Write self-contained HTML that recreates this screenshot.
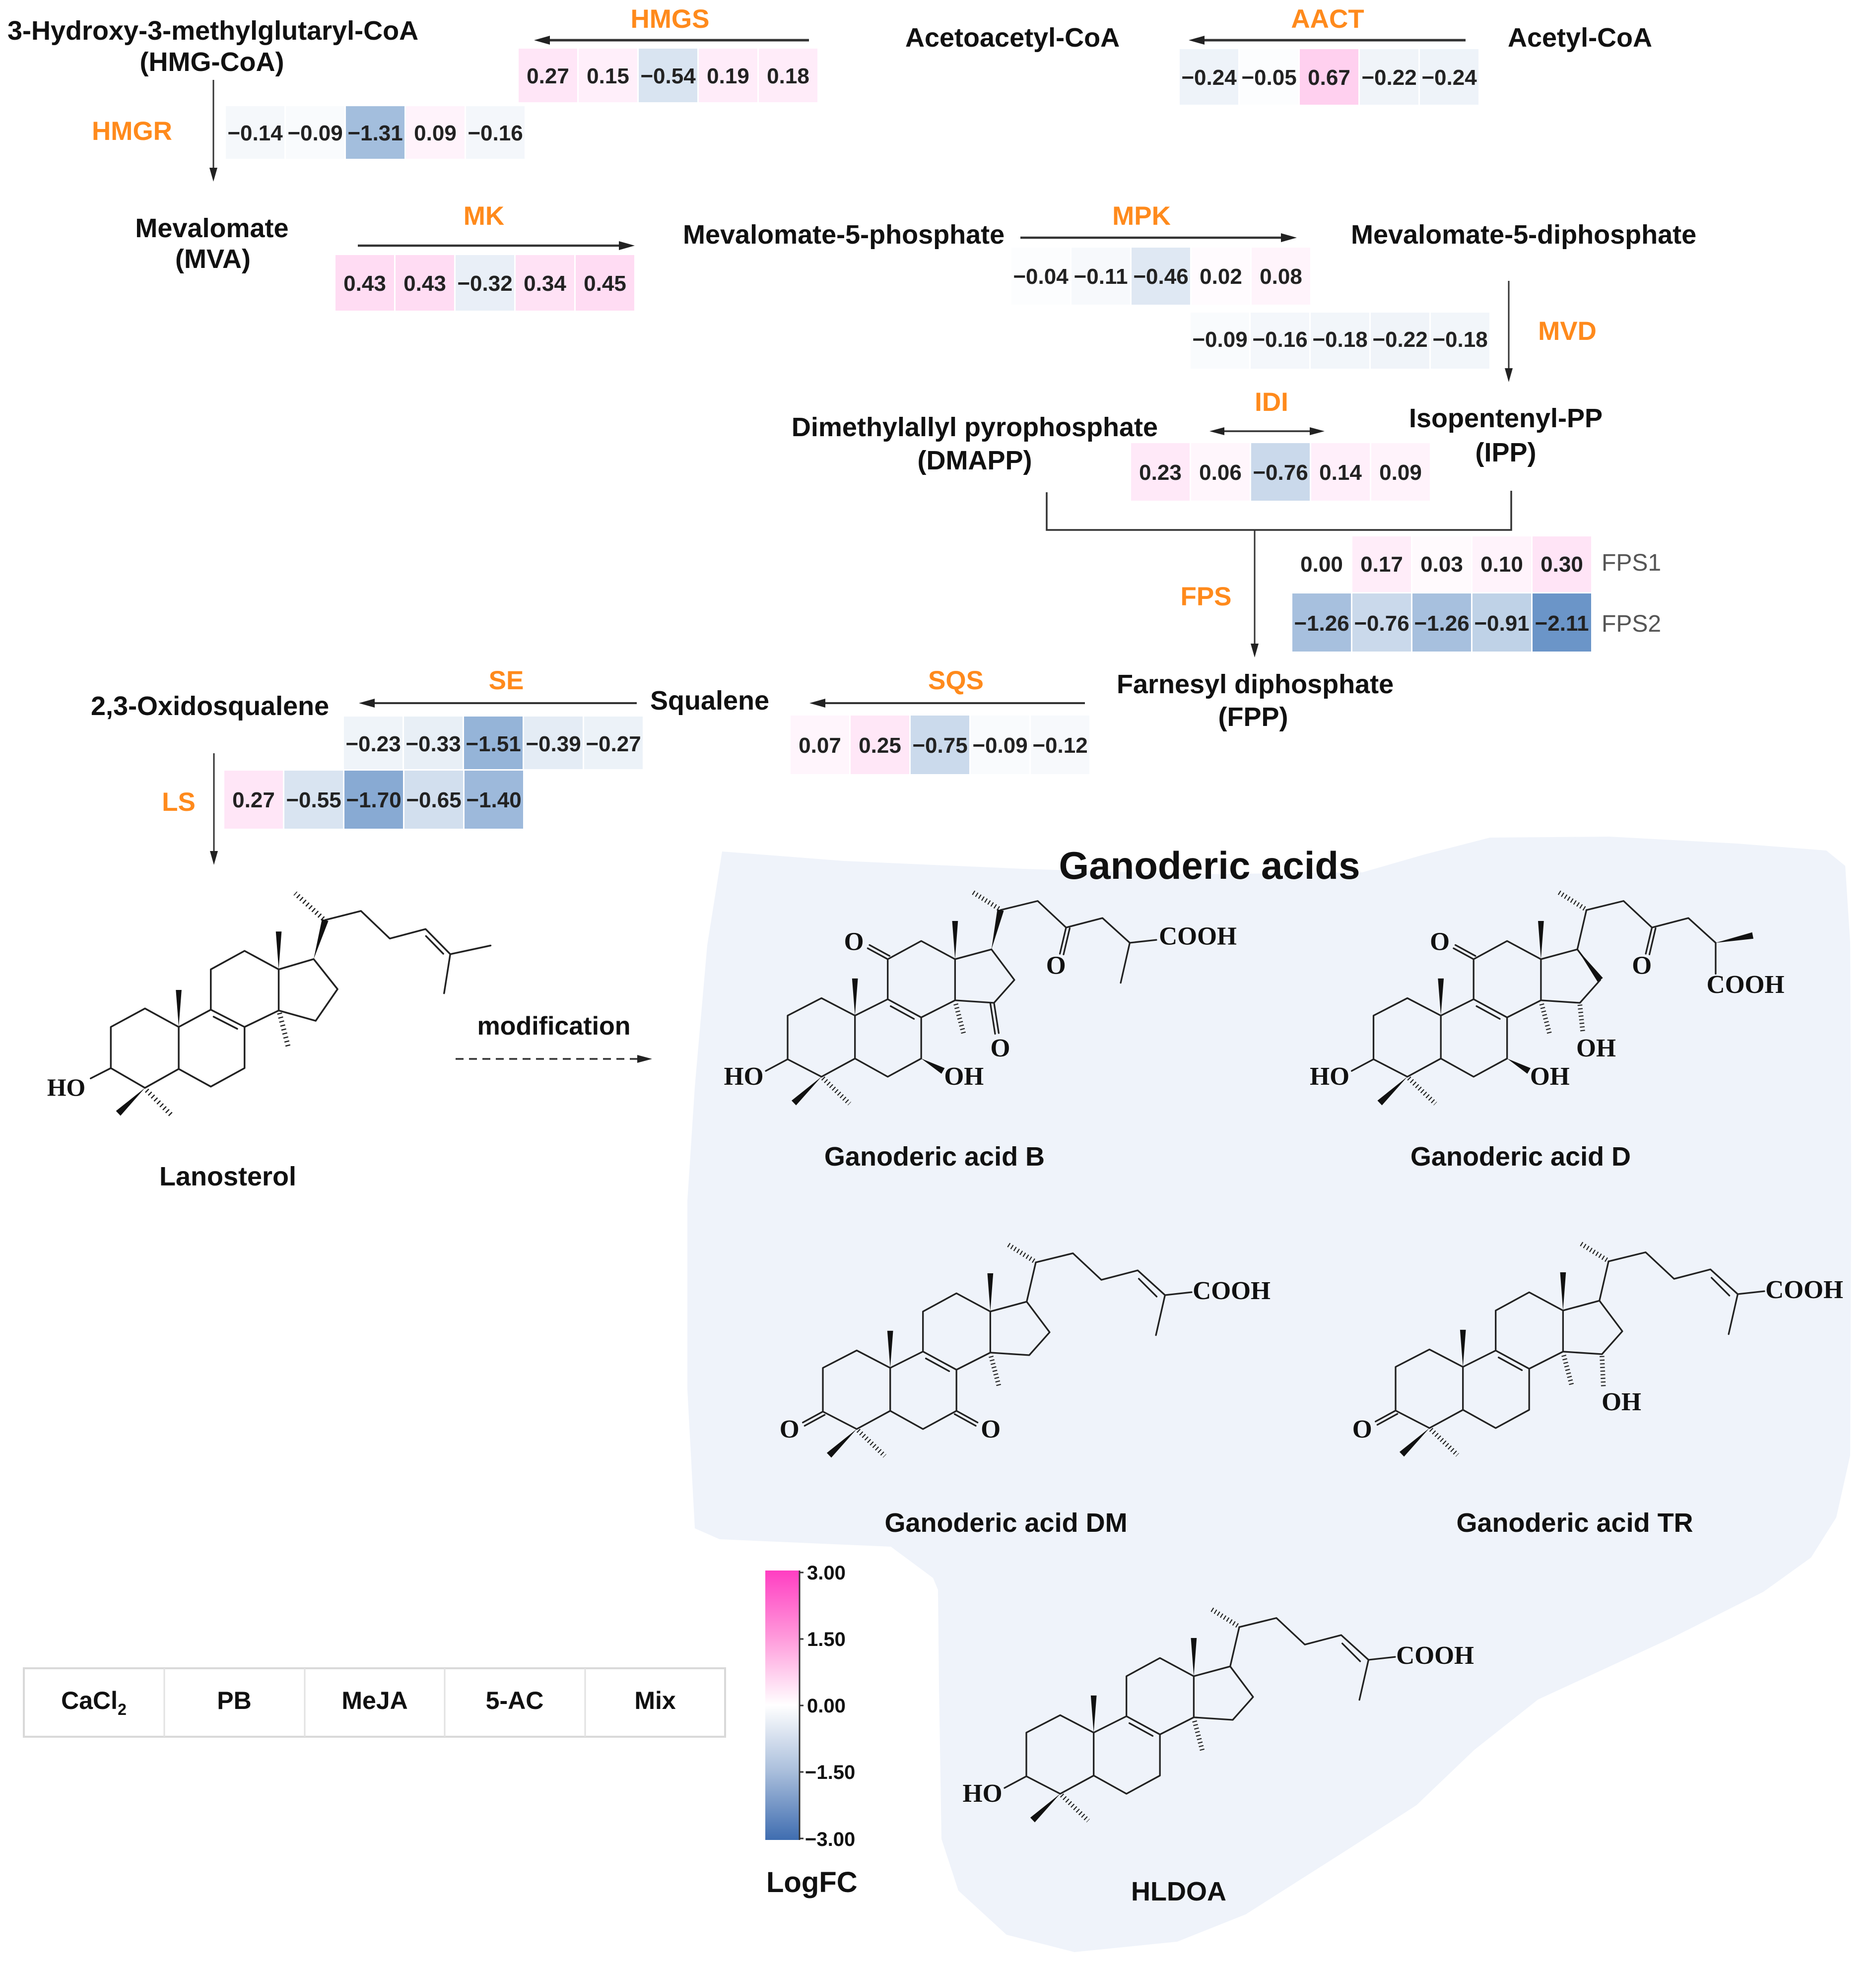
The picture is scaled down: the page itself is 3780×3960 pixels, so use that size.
<!DOCTYPE html>
<html>
<head>
<meta charset="utf-8">
<style>
html,body{margin:0;padding:0;background:#fff;}
svg{display:block;}
.n{font-family:"Liberation Sans",Arial,sans-serif;font-weight:bold;font-size:54px;fill:#111;}
.e{font-family:"Liberation Sans",Arial,sans-serif;font-weight:bold;font-size:53px;fill:#FF8A1C;}
.v{font-family:"Liberation Sans",Arial,sans-serif;font-weight:bold;font-size:44px;fill:#222;text-anchor:middle;}
.g{font-family:"Liberation Sans",Arial,sans-serif;font-size:48px;fill:#555;}
.c{font-family:"Liberation Serif","Times New Roman",serif;font-weight:bold;font-size:70px;fill:#111;}
.m{text-anchor:middle;}
.ln{stroke:#333;fill:none;}
.sk{stroke:#222;stroke-width:4.5;fill:none;stroke-linejoin:round;stroke-linecap:round;}
.hs{stroke:#222;stroke-width:13;fill:none;stroke-dasharray:3 7;}
.wd{fill:#111;stroke:none;}
</style>
</head>
<body>
<svg xmlns="http://www.w3.org/2000/svg" xmlns:xlink="http://www.w3.org/1999/xlink" width="3780" height="3960" viewBox="0 0 3780 3960">
<defs>
<linearGradient id="cb" x1="0" y1="0" x2="0" y2="1">
<stop offset="0" stop-color="#FF3EC2"/>
<stop offset="0.25" stop-color="#FF9ADB"/>
<stop offset="0.5" stop-color="#FFFFFF"/>
<stop offset="0.75" stop-color="#A8BDDB"/>
<stop offset="1" stop-color="#3F6DB0"/>
</linearGradient>
<g id="sk">
<path class="sk" d="M348,452 L255,500 L255,620 L348,668 L440,618 L440,500 Z M440,618 L530,668 L622,618 L622,505 L530,455 L440,500 M530,455 L530,345 L622,295 L715,345 L715,458 L622,505 M715,345 L815,318 L878,402 L822,465 L715,458 M840,210 L942,185 L1020,258 L1120,232 L1195,300 M538,474 L602,509"/>
<polygon class="wd" points="348,668 278.2,746.5 265.8,733.5"/>
<polygon class="wd" points="440,500 432,398 448,398"/>
<polygon class="wd" points="715,345 707,240 723,240"/>
<path class="hs" d="M352,672 L425,742 M717,468 L740,555 M835,206 L762,160"/>
</g>
</defs>

<!-- blue region -->
<path fill="#EFF3FA" d="M1455,1716 L1700,1735 L2063,1751 L2400,1762 L2745,1758 L2870,1722 L3002,1688 L3243,1686 L3500,1700 L3680,1714 L3718,1745 L3728,1900 L3730,2400 L3728,2933 L3700,3058 L3649,3139 L3553,3208 L3370,3300 L3099,3425 L2970,3527 L2854,3638 L2716,3727 L2510,3858 L2372,3913 L2165,3934 L2028,3899 L1931,3810 L1897,3706 L1892,3400 L1890,3204 L1880,3180 L1795,3117 L1450,3102 L1400,3080 L1385,2800 L1385,2420 L1400,2190 L1425,1905 Z"/>

<!-- ===== node labels ===== -->
<text class="n" x="15" y="80">3-Hydroxy-3-methylglutaryl-CoA</text>
<text class="n m" x="427" y="143">(HMG-CoA)</text>
<text class="n" x="1824" y="94">Acetoacetyl-CoA</text>
<text class="n" x="3038" y="94">Acetyl-CoA</text>
<text class="n m" x="427" y="478">Mevalomate</text>
<text class="n m" x="429" y="540">(MVA)</text>
<text class="n" x="1376" y="491">Mevalomate-5-phosphate</text>
<text class="n" x="2722" y="491">Mevalomate-5-diphosphate</text>
<text class="n m" x="1964" y="879">Dimethylallyl pyrophosphate</text>
<text class="n m" x="1964" y="946">(DMAPP)</text>
<text class="n m" x="3034" y="861">Isopentenyl-PP</text>
<text class="n m" x="3034" y="930">(IPP)</text>
<text class="n" x="2250" y="1397">Farnesyl diphosphate</text>
<text class="n m" x="2525" y="1463">(FPP)</text>
<text class="n" x="1310" y="1430">Squalene</text>
<text class="n" x="183" y="1441">2,3-Oxidosqualene</text>

<!-- enzyme labels -->
<text class="e m" x="1350" y="56">HMGS</text>
<text class="e m" x="2675" y="56">AACT</text>
<text class="e m" x="266" y="282">HMGR</text>
<text class="e m" x="975" y="453">MK</text>
<text class="e m" x="2300" y="453">MPK</text>
<text class="e m" x="3158" y="685">MVD</text>
<text class="e m" x="2562" y="828">IDI</text>
<text class="e m" x="2430" y="1220">FPS</text>
<text class="e m" x="1926" y="1389">SQS</text>
<text class="e m" x="1020" y="1389">SE</text>
<text class="e m" x="360" y="1634">LS</text>
<text class="g" x="3227" y="1150">FPS1</text>
<text class="g" x="3227" y="1273">FPS2</text>

<!-- ===== arrows ===== -->
<line class="ln" stroke-width="5" x1="1100" y1="81" x2="1630" y2="81"/>
<polygon fill="#222" points="1076,81 1108,72 1108,90"/>
<line class="ln" stroke-width="5" x1="2420" y1="81" x2="2953" y2="81"/>
<polygon fill="#222" points="2395,81 2427,72 2427,90"/>
<line class="ln" stroke-width="3" x1="430" y1="161" x2="430" y2="345"/>
<polygon fill="#222" points="430,366 422,338 438,338"/>
<line class="ln" stroke-width="4.5" x1="721" y1="495" x2="1255" y2="495"/>
<polygon fill="#222" points="1279,495 1247,486 1247,504"/>
<line class="ln" stroke-width="4.5" x1="2056" y1="479" x2="2590" y2="479"/>
<polygon fill="#222" points="2613,479 2581,470 2581,488"/>
<line class="ln" stroke-width="3" x1="3040" y1="566" x2="3040" y2="750"/>
<polygon fill="#222" points="3040,770 3032,742 3048,742"/>
<line class="ln" stroke-width="3.5" x1="2450" y1="869" x2="2655" y2="869"/>
<polygon fill="#222" points="2437,869 2467,861 2467,877"/>
<polygon fill="#222" points="2669,869 2639,861 2639,877"/>
<path class="ln" stroke-width="3.5" d="M2109,992 L2109,1068 L3045,1068 L3045,989"/>
<line class="ln" stroke-width="3" x1="2528" y1="1068" x2="2528" y2="1305"/>
<polygon fill="#222" points="2528,1325 2520,1297 2536,1297"/>
<line class="ln" stroke-width="4" x1="1650" y1="1417" x2="2186" y2="1417"/>
<polygon fill="#222" points="1631,1417 1663,1408 1663,1426"/>
<line class="ln" stroke-width="4" x1="740" y1="1417" x2="1283" y2="1417"/>
<polygon fill="#222" points="723,1417 755,1408 755,1426"/>
<line class="ln" stroke-width="3" x1="431" y1="1518" x2="431" y2="1720"/>
<polygon fill="#222" points="431,1743 423,1715 439,1715"/>
<line class="ln" stroke-width="3.5" stroke-dasharray="16 11" x1="918" y1="2134" x2="1290" y2="2134"/>
<polygon fill="#222" points="1314,2134 1284,2126 1284,2142"/>
<text class="n m" x="1116" y="2085" style="font-size:52px">modification</text>

<!-- ===== heatmaps ===== -->
<g>
<rect x="1045" y="98" width="118" height="108" fill="#FFE6F7"/>
<rect x="1166" y="98" width="118" height="108" fill="#FFEFFA"/>
<rect x="1287" y="98" width="118" height="108" fill="#D9E4F1"/>
<rect x="1408" y="98" width="118" height="108" fill="#FFECF9"/>
<rect x="1529" y="98" width="118" height="108" fill="#FFECF9"/>
<text class="v" x="1104" y="168">0.27</text>
<text class="v" x="1225" y="168">0.15</text>
<text class="v" x="1346" y="168">−0.54</text>
<text class="v" x="1467" y="168">0.19</text>
<text class="v" x="1588" y="168">0.18</text>
</g>
<g>
<rect x="2377" y="99" width="118" height="112" fill="#EEF3F9"/>
<rect x="2498" y="99" width="118" height="112" fill="#FCFDFE"/>
<rect x="2619" y="99" width="118" height="112" fill="#FFD0EF"/>
<rect x="2740" y="99" width="118" height="112" fill="#F0F4F9"/>
<rect x="2861" y="99" width="118" height="112" fill="#EEF3F9"/>
<text class="v" x="2436" y="171">−0.24</text>
<text class="v" x="2557" y="171">−0.05</text>
<text class="v" x="2678" y="171">0.67</text>
<text class="v" x="2799" y="171">−0.22</text>
<text class="v" x="2920" y="171">−0.24</text>
</g>
<g>
<rect x="455" y="214" width="118" height="106" fill="#F5F8FB"/>
<rect x="576" y="214" width="118" height="106" fill="#F9FBFD"/>
<rect x="697" y="214" width="118" height="106" fill="#A3BEDD"/>
<rect x="818" y="214" width="118" height="106" fill="#FFF3FB"/>
<rect x="939" y="214" width="118" height="106" fill="#F4F7FB"/>
<text class="v" x="514" y="283">−0.14</text>
<text class="v" x="635" y="283">−0.09</text>
<text class="v" x="756" y="283">−1.31</text>
<text class="v" x="877" y="283">0.09</text>
<text class="v" x="998" y="283">−0.16</text>
</g>
<g>
<rect x="676" y="514" width="118" height="112" fill="#FFDCF3"/>
<rect x="797" y="514" width="118" height="112" fill="#FFDCF3"/>
<rect x="918" y="514" width="118" height="112" fill="#E9EFF7"/>
<rect x="1039" y="514" width="118" height="112" fill="#FFE2F5"/>
<rect x="1160" y="514" width="118" height="112" fill="#FFDCF3"/>
<text class="v" x="735" y="586">0.43</text>
<text class="v" x="856" y="586">0.43</text>
<text class="v" x="977" y="586">−0.32</text>
<text class="v" x="1098" y="586">0.34</text>
<text class="v" x="1219" y="586">0.45</text>
</g>
<g>
<rect x="2038" y="499" width="118" height="115" fill="#FCFDFE"/>
<rect x="2159" y="499" width="118" height="115" fill="#F7F9FC"/>
<rect x="2280" y="499" width="118" height="115" fill="#DFE8F3"/>
<rect x="2401" y="499" width="118" height="115" fill="#FFFBFE"/>
<rect x="2522" y="499" width="118" height="115" fill="#FFF4FB"/>
<text class="v" x="2097" y="572">−0.04</text>
<text class="v" x="2218" y="572">−0.11</text>
<text class="v" x="2339" y="572">−0.46</text>
<text class="v" x="2460" y="572">0.02</text>
<text class="v" x="2581" y="572">0.08</text>
</g>
<g>
<rect x="2399" y="630" width="118" height="113" fill="#F9FBFD"/>
<rect x="2520" y="630" width="118" height="113" fill="#F4F7FB"/>
<rect x="2641" y="630" width="118" height="113" fill="#F2F6FA"/>
<rect x="2762" y="630" width="118" height="113" fill="#F0F4F9"/>
<rect x="2883" y="630" width="118" height="113" fill="#F2F6FA"/>
<text class="v" x="2458" y="699">−0.09</text>
<text class="v" x="2579" y="699">−0.16</text>
<text class="v" x="2700" y="699">−0.18</text>
<text class="v" x="2821" y="699">−0.22</text>
<text class="v" x="2942" y="699">−0.18</text>
</g>
<g>
<rect x="2279" y="893" width="118" height="116" fill="#FFE9F8"/>
<rect x="2400" y="893" width="118" height="116" fill="#FFF6FC"/>
<rect x="2521" y="893" width="118" height="116" fill="#CAD9EB"/>
<rect x="2642" y="893" width="118" height="116" fill="#FFEFFA"/>
<rect x="2763" y="893" width="118" height="116" fill="#FFF3FB"/>
<text class="v" x="2338" y="967">0.23</text>
<text class="v" x="2459" y="967">0.06</text>
<text class="v" x="2580" y="967">−0.76</text>
<text class="v" x="2701" y="967">0.14</text>
<text class="v" x="2822" y="967">0.09</text>
</g>
<g>
<rect x="2604" y="1081" width="118" height="112" fill="#FFFFFF"/>
<rect x="2725" y="1081" width="118" height="112" fill="#FFEDF9"/>
<rect x="2846" y="1081" width="118" height="112" fill="#FFFAFD"/>
<rect x="2967" y="1081" width="118" height="112" fill="#FFF3FB"/>
<rect x="3088" y="1081" width="118" height="112" fill="#FFE4F6"/>
<text class="v" x="2663" y="1152">0.00</text>
<text class="v" x="2784" y="1152">0.17</text>
<text class="v" x="2905" y="1152">0.03</text>
<text class="v" x="3026" y="1152">0.10</text>
<text class="v" x="3147" y="1152">0.30</text>
</g>
<g>
<rect x="2604" y="1196" width="118" height="117" fill="#A7C0DE"/>
<rect x="2725" y="1196" width="118" height="117" fill="#CAD9EB"/>
<rect x="2846" y="1196" width="118" height="117" fill="#A7C0DE"/>
<rect x="2967" y="1196" width="118" height="117" fill="#BFD2E7"/>
<rect x="3088" y="1196" width="118" height="117" fill="#6B95C8"/>
<text class="v" x="2663" y="1271">−1.26</text>
<text class="v" x="2784" y="1271">−0.76</text>
<text class="v" x="2905" y="1271">−1.26</text>
<text class="v" x="3026" y="1271">−0.91</text>
<text class="v" x="3147" y="1271">−2.11</text>
</g>
<g>
<rect x="1593" y="1442" width="118" height="118" fill="#FFF5FC"/>
<rect x="1714" y="1442" width="118" height="118" fill="#FFE7F7"/>
<rect x="1835" y="1442" width="118" height="118" fill="#CBDAEC"/>
<rect x="1956" y="1442" width="118" height="118" fill="#F9FBFD"/>
<rect x="2077" y="1442" width="118" height="118" fill="#F7F9FC"/>
<text class="v" x="1652" y="1517">0.07</text>
<text class="v" x="1773" y="1517">0.25</text>
<text class="v" x="1894" y="1517">−0.75</text>
<text class="v" x="2015" y="1517">−0.09</text>
<text class="v" x="2136" y="1517">−0.12</text>
</g>
<g>
<rect x="693" y="1444" width="118" height="106" fill="#EFF4F9"/>
<rect x="814" y="1444" width="118" height="106" fill="#E8EFF6"/>
<rect x="935" y="1444" width="118" height="106" fill="#95B4D8"/>
<rect x="1056" y="1444" width="118" height="106" fill="#E4ECF5"/>
<rect x="1177" y="1444" width="118" height="106" fill="#ECF2F8"/>
<text class="v" x="752" y="1514">−0.23</text>
<text class="v" x="873" y="1514">−0.33</text>
<text class="v" x="994" y="1514">−1.51</text>
<text class="v" x="1115" y="1514">−0.39</text>
<text class="v" x="1236" y="1514">−0.27</text>
</g>
<g>
<rect x="452" y="1553" width="118" height="117" fill="#FFE6F7"/>
<rect x="573" y="1553" width="118" height="117" fill="#D9E4F1"/>
<rect x="694" y="1553" width="118" height="117" fill="#88AAD3"/>
<rect x="815" y="1553" width="118" height="117" fill="#D2DFEE"/>
<rect x="936" y="1553" width="118" height="117" fill="#9DB9DB"/>
<text class="v" x="511" y="1627">0.27</text>
<text class="v" x="632" y="1627">−0.55</text>
<text class="v" x="753" y="1627">−1.70</text>
<text class="v" x="874" y="1627">−0.65</text>
<text class="v" x="995" y="1627">−1.40</text>
</g>

<!-- ===== Lanosterol ===== -->
<g transform="translate(60,1680) scale(0.829)">
<path class="sk" style="stroke-width:4.2" d="M197,570 L197,470 L280,425 L362,470 L362,572 L280,618 Z M362,572 L440,615 L522,570 L522,470 L440,428 L362,470 M440,428 L440,330 L522,285 L605,330 L605,430 L522,470 M605,330 L690,305 L748,378 L695,455 L605,430 M718,210 L805,188 L875,255 L962,232 L1022,293 L1120,272 M1022,293 L1007,388 M148,595 L197,570 M446.8,445 L504.2,474.4 M963,249 L1005,292"/>
<polygon class="wd" points="280,618 220.5,685.8 209.5,674.2"/>
<polygon class="wd" points="362,470 355,380 369,380"/>
<polygon class="wd" points="605,330 598,238 612,238"/>
<polygon class="wd" points="690,305 725.7,212.3 710.3,207.7"/>
<path class="hs" style="stroke-width:12" d="M284,624 L345,685 M607,436 L628,518 M713,207 L645,145"/>
<text class="c" x="42" y="637" style="font-size:60px">HO</text>
</g>
<text class="n m" x="459" y="2389">Lanosterol</text>

<text class="n m" x="2437" y="1771" style="font-size:78px">Ganoderic acids</text>

<!-- ===== Ganoderic acid B ===== -->
<g transform="translate(1400,1680) scale(0.7334)">
<use href="#sk" xlink:href="#sk"/>
<path class="sk" d="M255,620 L195,652 M530,345 L475,315 M535,336 L480,306 M822,465 L835,548 M812,467 L825,550 M1020,258 L1003,330 M1030,260 L1013,332 M1195,300 L1268,292 M1195,300 L1170,410"/>
<polygon class="wd" points="815,318 848.8,212 831.2,208"/>
<polygon class="wd" points="622,618 677.6,659.8 686.4,644.2"/>
<text class="c" x="80" y="690">HO</text>
<text class="c" x="685" y="690">OH</text>
<text class="c" x="410" y="320">O</text>
<text class="c" x="812" y="612">O</text>
<text class="c" x="965" y="385">O</text>
<text class="c" x="1275" y="305">COOH</text>
</g>
<text class="n m" x="1883" y="2349">Ganoderic acid B</text>

<!-- ===== Ganoderic acid D ===== -->
<g transform="translate(2580.5,1680) scale(0.7334)">
<use href="#sk" xlink:href="#sk"/>
<path class="sk" d="M255,620 L195,652 M530,345 L475,315 M535,336 L480,306 M1020,258 L1003,330 M1030,260 L1013,332 M815,318 L840,210 M1195,300 L1195,385"/>
<path class="hs" d="M822,470 L830,545"/>
<polygon class="wd" points="815,318 870.8,407.4 885.2,396.6"/>
<polygon class="wd" points="1195,300 1298.7,288.8 1295.3,271.2"/>
<polygon class="wd" points="622,618 677.6,659.8 686.4,644.2"/>
<text class="c" x="80" y="690">HO</text>
<text class="c" x="685" y="690">OH</text>
<text class="c" x="410" y="320">O</text>
<text class="c" x="812" y="612">OH</text>
<text class="c" x="965" y="385">O</text>
<text class="c" x="1170" y="438">COOH</text>
</g>
<text class="n m" x="3064" y="2349">Ganoderic acid D</text>

<!-- ===== Ganoderic acid DM ===== -->
<g transform="translate(1471,2390) scale(0.7334)">
<use href="#sk" xlink:href="#sk"/>
<path class="sk" d="M255,620 L200,650 M260,629 L205,659 M622,618 L680,650 M617,627 L675,659 M815,318 L840,210 M1123,255 L1172,304 M1195,300 L1268,292 M1195,300 L1170,410"/>
<text class="c" x="136" y="691">O</text>
<text class="c" x="689" y="691">O</text>
<text class="c" x="1271" y="311">COOH</text>
</g>
<text class="n m" x="2027" y="3087">Ganoderic acid DM</text>

<!-- ===== Ganoderic acid TR ===== -->
<g transform="translate(2625,2388) scale(0.7334)">
<use href="#sk" xlink:href="#sk"/>
<path class="sk" d="M255,620 L200,650 M260,629 L205,659 M815,318 L840,210 M1123,255 L1172,304 M1195,300 L1268,292 M1195,300 L1170,410"/>
<path class="hs" d="M822,470 L826,555"/>
<text class="c" x="136" y="694">O</text>
<text class="c" x="821" y="619">OH</text>
<text class="c" x="1271" y="311">COOH</text>
</g>
<text class="n m" x="3173" y="3087">Ganoderic acid TR</text>

<!-- ===== HLDOA ===== -->
<g transform="translate(1881,3125) scale(0.7334)">
<use href="#sk" xlink:href="#sk"/>
<path class="sk" d="M255,620 L195,652 M815,318 L840,210 M1123,255 L1172,304 M1195,300 L1268,292 M1195,300 L1170,410"/>
<text class="c" x="80" y="690">HO</text>
<text class="c" x="1271" y="311">COOH</text>
</g>
<text class="n m" x="2375" y="3830">HLDOA</text>

<!-- ===== legend table ===== -->
<rect x="48" y="3362" width="1413" height="138" fill="#fff" stroke="#d9d9d9" stroke-width="4"/>
<path d="M331,3362 L331,3500 M614,3362 L614,3500 M896,3362 L896,3500 M1179,3362 L1179,3500" stroke="#e2e2e2" stroke-width="3"/>
<text class="n m" x="189" y="3444" style="font-size:50px">CaCl<tspan font-size="32" dy="12">2</tspan></text>
<text class="n m" x="472" y="3444" style="font-size:50px">PB</text>
<text class="n m" x="755" y="3444" style="font-size:50px">MeJA</text>
<text class="n m" x="1037" y="3444" style="font-size:50px">5-AC</text>
<text class="n m" x="1320" y="3444" style="font-size:50px">Mix</text>

<!-- ===== colorbar ===== -->
<rect x="1542" y="3165" width="69" height="543" fill="url(#cb)"/>
<path d="M1611,3165 L1611,3708 M1611,3169 L1619,3169 M1611,3303 L1619,3303 M1611,3437 L1619,3437 M1611,3571 L1619,3571 M1611,3705 L1619,3705" stroke="#333" stroke-width="3" fill="none"/>
<text class="n" x="1626" y="3183" style="font-size:40px">3.00</text>
<text class="n" x="1626" y="3317" style="font-size:40px">1.50</text>
<text class="n" x="1626" y="3451" style="font-size:40px">0.00</text>
<text class="n" x="1622" y="3585" style="font-size:40px">−1.50</text>
<text class="n" x="1622" y="3720" style="font-size:40px">−3.00</text>
<text class="n" x="1544" y="3813" style="font-size:58px">LogFC</text>
</svg>
</body>
</html>
